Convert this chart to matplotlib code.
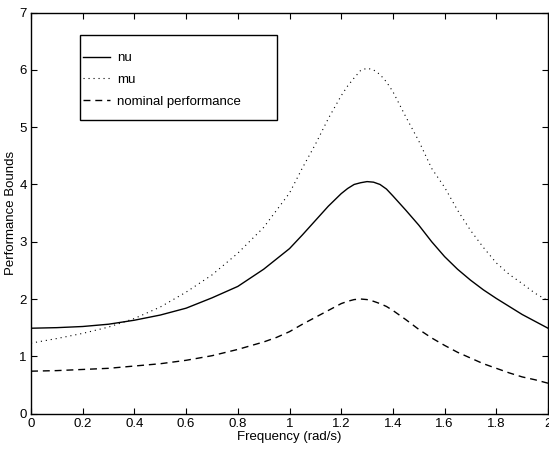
import matplotlib
matplotlib.use('Agg')
import matplotlib.pyplot as plt
from matplotlib.patches import Rectangle

# frequency points (rad/s)
freq = [0.0, 0.1, 0.2, 0.3, 0.4, 0.5, 0.6, 0.7, 0.8, 0.9, 0.95, 1.0, 1.05, 1.1, 1.15,
        1.2, 1.225, 1.25, 1.275, 1.3, 1.325, 1.35, 1.375, 1.4, 1.45, 1.5, 1.55, 1.6,
        1.65, 1.7, 1.75, 1.8, 1.85, 1.9, 1.95, 2.0]

# performance bounds
nu = [1.49, 1.50, 1.52, 1.56, 1.63, 1.72, 1.84, 2.02, 2.22, 2.52, 2.70, 2.88, 3.12, 3.37, 3.62,
      3.84, 3.93, 4.00, 4.03, 4.05, 4.04, 4.00, 3.92, 3.80, 3.55, 3.29, 3.00, 2.74,
      2.52, 2.33, 2.16, 2.01, 1.87, 1.73, 1.61, 1.49]
mu = [1.23, 1.31, 1.40, 1.51, 1.66, 1.86, 2.12, 2.42, 2.80, 3.25, 3.55, 3.85, 4.29, 4.70, 5.15,
      5.55, 5.72, 5.86, 5.99, 6.03, 6.00, 5.92, 5.79, 5.62, 5.18, 4.76, 4.28, 3.95,
      3.55, 3.20, 2.90, 2.63, 2.43, 2.27, 2.10, 1.97]
nominal = [0.74, 0.75, 0.77, 0.79, 0.83, 0.87, 0.93, 1.01, 1.12, 1.25, 1.33, 1.43, 1.56, 1.68, 1.80,
           1.92, 1.96, 1.99, 2.00, 1.99, 1.96, 1.92, 1.87, 1.80, 1.64, 1.47, 1.32, 1.19,
           1.07, 0.97, 0.87, 0.79, 0.71, 0.64, 0.59, 0.53]

plt.rcParams['font.family'] = ['Liberation Sans', 'DejaVu Sans']
plt.rcParams['font.size'] = 9.5

fig = plt.figure(figsize=(5.49, 4.51), dpi=100)
ax = fig.add_axes([0.0565, 0.083, 0.9417, 0.889])

ax.plot(freq, nu, color='black', linewidth=1.0, label='nu')
ax.plot(freq, mu, color='black', linewidth=0.8, linestyle=(0, (1, 3.5)), label='mu')
ax.plot(freq, nominal, color='black', linewidth=1.0, linestyle=(0, (5, 3.5)),
        label='nominal performance')

ax.set_xlim(0, 2)
ax.set_ylim(0, 7)
ax.set_xticks([0, 0.2, 0.4, 0.6, 0.8, 1, 1.2, 1.4, 1.6, 1.8, 2])
ax.set_xticklabels(['0', '0.2', '0.4', '0.6', '0.8', '1', '1.2', '1.4', '1.6', '1.8', '2'])
ax.set_yticks(range(8))
ax.tick_params(direction='in', top=True, right=True, length=4, width=0.8, pad=3)
for s in ax.spines.values():
    s.set_linewidth(1.0)

ax.set_xlabel('Frequency (rad/s)', labelpad=1)
ax.set_ylabel('Performance Bounds', labelpad=2)

# matlab style legend: box drawn separately
ax.add_patch(Rectangle((0.0948, 0.7319), 0.3804, 0.212, transform=ax.transAxes,
                       facecolor='white', edgecolor='black', linewidth=1.0, zorder=4))
leg = ax.legend(loc='upper left', bbox_to_anchor=(0.1006, 0.9015), frameon=False,
                handlelength=2.05, handletextpad=0.5, borderpad=0, labelspacing=0.72,
                borderaxespad=0)
leg.set_zorder(5)

fig.savefig('out.png', dpi=100)
